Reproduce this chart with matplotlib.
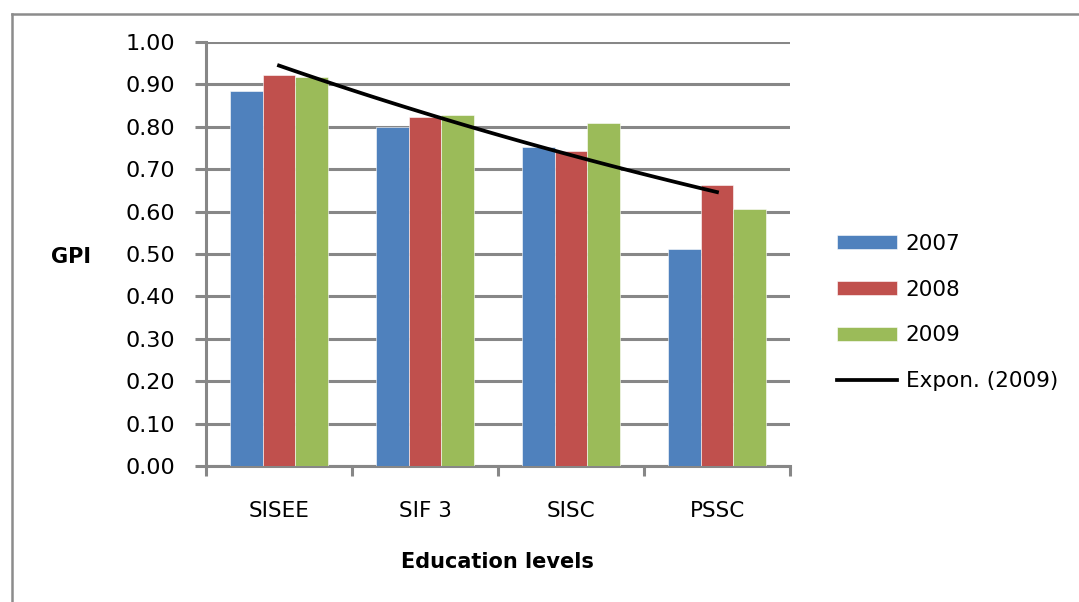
import numpy as np
import matplotlib
matplotlib.use('Agg')
import matplotlib.pyplot as plt
from matplotlib.lines import Line2D
from matplotlib.ticker import FixedLocator, MultipleLocator, FormatStrFormatter

levels = ['SISEE', 'SIF 3', 'SISC', 'PSSC']
years = ['2007', '2008', '2009']
gpi_2007 = [0.884, 0.800, 0.752, 0.512]
gpi_2008 = [0.922, 0.823, 0.743, 0.663]
gpi_2009 = [0.917, 0.828, 0.809, 0.606]
colors = ['#4F81BD', '#C0504D', '#9BBB59']
grey = '#878787'

plt.rcParams['font.family'] = ['DejaVu Sans']

fig = plt.figure(figsize=(10.79, 6.02), dpi=100)
ax = fig.add_axes([206 / 1079, 1 - 466 / 602, 584 / 1079, 424 / 602])

x = np.arange(len(levels))
w = 1 / 4.5
for i, (vals, c, lab) in enumerate(zip([gpi_2007, gpi_2008, gpi_2009], colors, years)):
    ax.bar(x + (i - 1) * w, vals, w, color=c, label=lab, zorder=3,
           edgecolor='white', linewidth=0.4)

# exponential trendline fitted on 2009
b, a = np.polyfit(x + 1, np.log(gpi_2009), 1)
xt = np.linspace(1, 4, 100)
ax.plot(xt - 1, np.exp(a + b * xt), color='black', lw=2.7, zorder=4,
        label='Expon. (2009)')

ax.set_xlim(-0.5, 3.5)
ax.set_ylim(0, 1.0)
ax.yaxis.set_major_locator(MultipleLocator(0.1))
ax.yaxis.set_major_formatter(FormatStrFormatter('%.2f'))
ax.yaxis.grid(True, color=grey, lw=2.2, zorder=0)
ax.set_axisbelow(True)

ax.set_xticks(x)
ax.set_xticklabels(levels)
ax.xaxis.set_minor_locator(FixedLocator(np.arange(-0.5, 3.6, 1)))
ax.tick_params(axis='x', which='major', length=0, pad=25, labelsize=15.5)
ax.tick_params(axis='x', which='minor', length=7, width=2.2, color=grey, direction='out')
ax.tick_params(axis='y', length=8, width=2.2, color=grey, pad=14, labelsize=16)

for s in ['top', 'right']:
    ax.spines[s].set_visible(False)
for s in ['left', 'bottom']:
    ax.spines[s].set_color(grey)
    ax.spines[s].set_linewidth(2.2)

fig.text(71 / 1079, 1 - 257 / 602, 'GPI', fontsize=15, fontweight='bold',
         ha='center', va='center')
fig.text(497 / 1079, 1 - 562 / 602, 'Education levels', fontsize=15,
         fontweight='bold', ha='center', va='center')

handles, labels = ax.get_legend_handles_labels()
order = [1, 2, 3, 0]
leg = ax.legend([handles[k] for k in order], [labels[k] for k in order],
                loc='upper left', bbox_to_anchor=(826 / 1079, 1 - 223 / 602),
                bbox_transform=fig.transFigure, frameon=False, fontsize=15.5,
                handlelength=2.8, handleheight=0.65, labelspacing=1.2,
                handletextpad=0.4, borderpad=0)

# outer chart border
fig.add_artist(Line2D([12 / 1079, 1.0], [1 - 14 / 602] * 2, color='#8c8c8c', lw=1.8))
fig.add_artist(Line2D([12 / 1079] * 2, [0, 1 - 14 / 602], color='#8c8c8c', lw=1.8))

fig.savefig('out.png', dpi=100)
